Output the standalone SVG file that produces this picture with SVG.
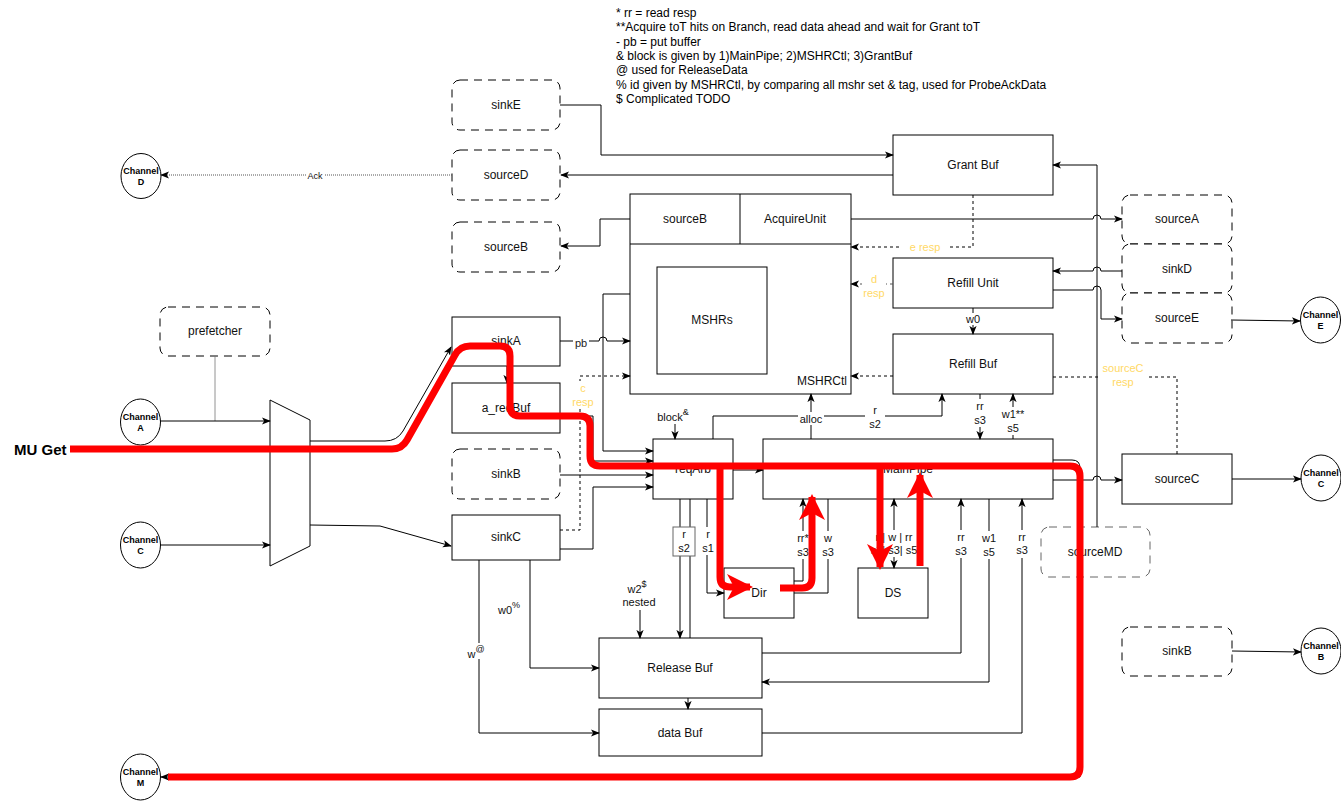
<svg xmlns="http://www.w3.org/2000/svg" width="1341" height="803" viewBox="0 0 1341 803">
<style>
.n{fill:#fff;stroke:#000;stroke-width:1}
.d{fill:#fff;stroke:#000;stroke-width:1;stroke-dasharray:8 6}
.ch{fill:#fff;stroke:#000;stroke-width:1}
.t{font-family:"Liberation Sans",Arial,sans-serif;font-size:12px;fill:#111;text-anchor:middle;dominant-baseline:central}
.c{font-family:"Liberation Sans",Arial,sans-serif;font-size:9px;font-weight:bold;fill:#000;text-anchor:middle;dominant-baseline:central}
.l{font-family:"Liberation Sans",Arial,sans-serif;font-size:11px;fill:#111;text-anchor:middle;dominant-baseline:central}
.o{fill:#FFD966}
.note{font-family:"Liberation Sans",Arial,sans-serif;font-size:12px;fill:#000;dominant-baseline:central}
.e{fill:none;stroke:#000;stroke-width:1}
.ds{fill:none;stroke:#000;stroke-width:1;stroke-dasharray:3 3}
.dot{fill:none;stroke:#555;stroke-width:1;stroke-dasharray:1 1}
.bg{fill:#fff}
.red{fill:none;stroke:#f00;stroke-width:7}
</style>
<defs>
<marker id="a" viewBox="0 0 10 8" refX="9" refY="4" markerWidth="9" markerHeight="8" markerUnits="userSpaceOnUse" orient="auto"><path d="M0,0 L10,4 L0,8 L2.5,4 Z" fill="#000"/></marker>
<marker id="as" viewBox="0 0 10 8" refX="1" refY="4" markerWidth="9" markerHeight="8" markerUnits="userSpaceOnUse" orient="auto"><path d="M10,0 L0,4 L10,8 L7.5,4 Z" fill="#000"/></marker>
<marker id="r" viewBox="0 0 26 26" refX="23" refY="13" markerWidth="26" markerHeight="26" markerUnits="userSpaceOnUse" orient="auto"><path d="M0,0 L26,13 L0,26 L7,13 Z" fill="#f00"/></marker>
</defs>

<g id="notes">
<text class="note" x="616" y="13">* rr = read resp</text>
<text class="note" x="616" y="27.3">**Acquire toT hits on Branch, read data ahead and wait for Grant toT</text>
<text class="note" x="616" y="41.6">- pb = put buffer</text>
<text class="note" x="616" y="55.9">&amp; block is given by 1)MainPipe; 2)MSHRCtl; 3)GrantBuf</text>
<text class="note" x="616" y="70.2">@ used for ReleaseData</text>
<text class="note" x="616" y="84.5">% id given by MSHRCtl, by comparing all mshr set &amp; tag, used for ProbeAckData</text>
<text class="note" x="616" y="98.8">$ Complicated TODO</text>
</g>

<g id="sinkE"><rect class="d" x="452" y="80" width="108" height="50" rx="8"/><text class="t" x="506" y="105">sinkE</text></g>
<g id="sourceD"><rect class="d" x="452" y="150" width="108" height="50" rx="8"/><text class="t" x="506" y="175">sourceD</text></g>
<g id="sourceB-out"><rect class="d" x="452" y="222" width="108" height="50" rx="8"/><text class="t" x="506" y="247">sourceB</text></g>
<g id="channelD"><ellipse class="ch" cx="141" cy="176" rx="20" ry="22.5"/><text class="c" x="141" y="170.5">Channel</text><text class="c" x="141" y="181.5">D</text></g>
<g id="prefetcher"><rect class="d" x="160" y="307" width="110" height="49" rx="8"/><text class="t" x="215" y="331">prefetcher</text></g>
<g id="channelA"><ellipse class="ch" cx="140.5" cy="422" rx="20" ry="23"/><text class="c" x="140.5" y="416.5">Channel</text><text class="c" x="140.5" y="427.5">A</text></g>
<g id="channelC-in"><ellipse class="ch" cx="140.5" cy="545" rx="20" ry="23"/><text class="c" x="140.5" y="539.5">Channel</text><text class="c" x="140.5" y="550.5">C</text></g>
<g id="channelM"><ellipse class="ch" cx="140.5" cy="777" rx="20" ry="23"/><text class="c" x="140.5" y="771.5">Channel</text><text class="c" x="140.5" y="782.5">M</text></g>
<g id="mux"><polygon class="n" points="270,400 310,420 310,546 270,566"/></g>
<g id="sinkA"><rect class="n" x="452" y="317" width="108" height="49"/><text class="t" x="506" y="341">sinkA</text></g>
<g id="a_reqBuf"><rect class="n" x="452" y="383" width="108" height="50"/><text class="t" x="506" y="408">a_reqBuf</text></g>
<g id="sinkB-in"><rect class="d" x="452" y="449" width="108" height="50" rx="8"/><text class="t" x="506" y="474">sinkB</text></g>
<g id="sinkC"><rect class="n" x="452" y="515" width="108" height="45"/><text class="t" x="506" y="537">sinkC</text></g>

<g id="MSHRCtl">
<rect class="n" x="630" y="194" width="221" height="200"/>
<line class="e" x1="630" y1="244" x2="851" y2="244"/>
<line class="e" x1="740" y1="194" x2="740" y2="244"/>
<text class="t" x="685" y="219">sourceB</text>
<text class="t" x="795" y="219">AcquireUnit</text>
<rect class="n" x="657" y="267" width="110" height="107"/>
<text class="t" x="712" y="320">MSHRs</text>
<text class="t" x="847" y="381" style="text-anchor:end">MSHRCtl</text>
</g>

<g id="GrantBuf"><rect class="n" x="893" y="135" width="160" height="60"/><text class="t" x="973" y="165">Grant Buf</text></g>
<g id="RefillUnit"><rect class="n" x="893" y="258" width="160" height="50"/><text class="t" x="973" y="283">Refill Unit</text></g>
<g id="RefillBuf"><rect class="n" x="893" y="334" width="160" height="60"/><text class="t" x="973" y="364">Refill Buf</text></g>
<g id="sourceA"><rect class="d" x="1122" y="195" width="110" height="49" rx="8"/><text class="t" x="1177" y="219">sourceA</text></g>
<g id="sinkD"><rect class="d" x="1122" y="244" width="110" height="49" rx="8"/><text class="t" x="1177" y="269">sinkD</text></g>
<g id="sourceE"><rect class="d" x="1122" y="293" width="110" height="50" rx="8"/><text class="t" x="1177" y="318">sourceE</text></g>
<g id="channelE"><ellipse class="ch" cx="1320.5" cy="320" rx="20" ry="23"/><text class="c" x="1320.5" y="314.5">Channel</text><text class="c" x="1320.5" y="325.5">E</text></g>
<g id="reqArb"><rect class="n" x="653" y="439" width="80" height="60"/><text class="t" x="693" y="469">reqArb</text></g>
<g id="MainPipe"><rect class="n" x="763" y="439" width="290" height="60"/><text class="t" x="908" y="469">MainPipe</text></g>
<g id="Dir"><rect class="n" x="724" y="568" width="70" height="50"/><text class="t" x="759" y="593">Dir</text></g>
<g id="DS"><rect class="n" x="858" y="568" width="70" height="50"/><text class="t" x="893" y="593">DS</text></g>
<g id="ReleaseBuf"><rect class="n" x="599" y="638" width="163" height="60"/><text class="t" x="680" y="668">Release Buf</text></g>
<g id="dataBuf"><rect class="n" x="599" y="709" width="163" height="47"/><text class="t" x="680" y="733">data Buf</text></g>
<g id="sourceC"><rect class="n" x="1122" y="454" width="110" height="50"/><text class="t" x="1177" y="479">sourceC</text></g>
<g id="channelC-out"><ellipse class="ch" cx="1321" cy="478" rx="20" ry="23"/><text class="c" x="1321" y="472.5">Channel</text><text class="c" x="1321" y="483.5">C</text></g>
<g id="sourceMD"><rect class="d" x="1041" y="527" width="109" height="50" rx="8" style="stroke:#666"/><text class="t" x="1095" y="552">sourceMD</text></g>
<g id="sinkB-out"><rect class="d" x="1122" y="627" width="110" height="49" rx="8"/><text class="t" x="1177" y="651">sinkB</text></g>
<g id="channelB"><ellipse class="ch" cx="1321" cy="651" rx="20" ry="23"/><text class="c" x="1321" y="645.5">Channel</text><text class="c" x="1321" y="656.5">B</text></g>

<g id="connectors">
<path class="dot" d="M452,175 L161,175" marker-end="url(#a)"/>
<rect class="bg" x="306" y="170" width="18" height="11"/>
<text class="l" x="315" y="176" style="font-size:9px">Ack</text>
<path class="e" d="M560,105 L601,105 L601,155 L893,155" marker-end="url(#a)"/>
<path class="e" d="M893,175 L561,175" marker-end="url(#a)"/>
<path class="e" d="M630,219 L600,219 L600,246 L561,246" marker-end="url(#a)"/>
<path class="e" d="M215,356 L215,421" style="stroke:#777;stroke-width:0.8"/>
<path class="e" d="M160,421 L270,421" marker-end="url(#a)"/>
<path class="e" d="M160,545 L270,545" marker-end="url(#a)"/>
<path class="e" d="M310,441 L385,441 Q397,441 403,431 L451,347" marker-end="url(#a)"/>
<path class="e" d="M310,525 L380,526 L451,546" marker-end="url(#a)"/>
<path class="e" d="M507,366 L507,383" marker-end="url(#a)"/>
<path class="e" d="M560,341 L599,341 A4,4 0 0 1 607,341 L630,341" marker-end="url(#a)"/>
<rect class="bg" x="573" y="336" width="16" height="12"/>
<text class="l" x="581" y="343" style="fill:#222">pb</text>
<path class="e" d="M630,294 L603,294 L603,451 L653,451" marker-end="url(#a)"/>
<path class="e" d="M560,416 L593,416 L593,461 L653,461" marker-end="url(#a)"/>
<path class="e" d="M560,475 L653,475" marker-end="url(#a)"/>
<path class="e" d="M560,549 L593,549 L593,487 L653,487" marker-end="url(#a)"/>
<path class="ds" d="M560,530 L580,530 L580,376 L630,376" marker-end="url(#a)"/>
<rect class="bg" x="570" y="381" width="26" height="28"/>
<text class="l o" x="583" y="388">c</text>
<text class="l o" x="583" y="402">resp</text>
<path class="e" d="M675,424 L675,439" marker-end="url(#a)"/>
<text class="l" x="673" y="417">block<tspan dy="-5" font-size="9">&amp;</tspan></text>

<path class="e" d="M733,470 L763,470" marker-end="url(#a)"/>
<path class="e" d="M811,439 L811,394" marker-end="url(#a)"/>
<path class="e" d="M713,439 L713,416 L942,416 L942,394" marker-end="url(#a)"/>
<rect class="bg" x="798" y="412" width="26" height="13"/>
<text class="l" x="811" y="419">alloc</text>
<rect class="bg" x="865" y="403" width="20" height="28"/>
<text class="l" x="875" y="410">r</text>
<text class="l" x="875" y="424">s2</text>
<path class="e" d="M980,394 L980,439" marker-end="url(#a)"/>
<rect class="bg" x="971" y="399" width="18" height="28"/>
<text class="l" x="980" y="406">rr</text>
<text class="l" x="980" y="420">s3</text>
<path class="e" d="M1013,439 L1013,394" marker-end="url(#a)"/>
<rect class="bg" x="1000" y="407" width="27" height="28"/>
<text class="l" x="1013" y="414">w1**</text>
<text class="l" x="1013" y="428">s5</text>
<path class="e" d="M973,308 L973,334" marker-end="url(#a)"/>
<rect class="bg" x="964" y="313" width="18" height="12"/>
<text class="l" x="973" y="319">w0</text>
<path class="ds" d="M893,376 L851,376" marker-end="url(#a)"/>
<path class="ds" d="M1053,377 L1177,377 L1177,454"/>
<rect class="bg" x="1100" y="361" width="46" height="28"/>
<text class="l o" x="1123" y="368">sourceC</text>
<text class="l o" x="1123" y="382">resp</text>
<path class="ds" d="M973,195 L973,247 L851,247" marker-end="url(#a)"/>
<rect class="bg" x="900" y="241" width="50" height="12"/>
<text class="l o" x="925" y="247">e resp</text>
<path class="ds" d="M893,284 L851,284" marker-end="url(#a)" style="stroke:#555"/>
<rect class="bg" x="862" y="272" width="24" height="28"/>
<text class="l o" x="874" y="279">d</text>
<text class="l o" x="874" y="293">resp</text>
<path class="e" d="M851,219 L1093,219 A4,4 0 0 1 1101,219 L1122,219" marker-end="url(#a)"/>
<path class="e" d="M1097,527 L1097,165 L1053,165" marker-end="url(#a)"/>
<path class="e" d="M1122,271 L1101,271 A4,4 0 0 0 1093,271 L1053,271" marker-end="url(#a)"/>
<path class="e" d="M1053,290 L1093,290 A4,4 0 0 1 1101,290 L1101,319 L1122,319" marker-end="url(#a)"/>
<path class="e" d="M1231,320 L1300,321" marker-end="url(#a)"/>
<path class="e" d="M1053,480 L1093,480 A4,4 0 0 1 1101,480 L1122,480" marker-end="url(#a)"/>
<path class="e" d="M1232,479 L1301,479" marker-end="url(#a)"/>
<path class="e" d="M1232,651 L1301,652" marker-end="url(#a)"/>
<path class="e" d="M1053,460 L1072,460 Q1080,460 1080,468 L1080,777 L161,777" marker-end="url(#a)"/>

<path class="e" d="M680,499 L680,638" marker-end="url(#a)"/>
<path class="e" d="M690,499 L690,638"/>
<rect x="673" y="527" width="22" height="29" fill="#fff" stroke="#666"/>
<text class="l" x="684" y="534">r</text>
<text class="l" x="684" y="548">s2</text>
<path class="e" d="M707,499 L707,593 L724,593" marker-end="url(#a)"/>
<rect class="bg" x="699" y="527" width="18" height="28"/>
<text class="l" x="708" y="534">r</text>
<text class="l" x="708" y="548">s1</text>
<path class="e" d="M640,610 L640,638" marker-end="url(#a)"/>
<text class="l" x="637" y="589">w2<tspan dy="-5" font-size="9">$</tspan></text>
<text class="l" x="639" y="602">nested</text>
<path class="e" d="M794,581 L803,581 L803,499" marker-end="url(#a)"/>
<rect class="bg" x="794" y="531" width="18" height="28"/>
<text class="l" x="803" y="538">rr*</text>
<text class="l" x="803" y="552">s3</text>
<path class="e" d="M828,499 L828,593 L794,593"/>
<rect class="bg" x="820" y="531" width="17" height="28"/>
<text class="l" x="828" y="538">w</text>
<text class="l" x="828" y="552">s3</text>
<path class="e" d="M894,499 L894,568" marker-start="url(#as)" marker-end="url(#a)"/>
<rect class="bg" x="872" y="530" width="46" height="27"/>
<text class="l" x="894" y="537">r | w | rr</text>
<text class="l" x="894" y="550">s3| s3| s5</text>
<path class="e" d="M762,653 L961,653 L961,499" marker-end="url(#a)"/>
<rect class="bg" x="952" y="530" width="18" height="28"/>
<text class="l" x="961" y="537">rr</text>
<text class="l" x="961" y="551">s3</text>
<path class="e" d="M989,499 L989,682 L762,682" marker-end="url(#a)"/>
<rect class="bg" x="979" y="531" width="20" height="28"/>
<text class="l" x="989" y="538">w1</text>
<text class="l" x="989" y="552">s5</text>
<path class="e" d="M762,733 L1022,733 L1022,499" marker-end="url(#a)"/>
<rect class="bg" x="1013" y="530" width="18" height="28"/>
<text class="l" x="1022" y="537">rr</text>
<text class="l" x="1022" y="550">s3</text>
<path class="e" d="M530,560 L530,668 L599,668" marker-end="url(#a)"/>
<rect class="bg" x="500" y="600" width="26" height="16"/>
<text class="l" x="509" y="610">w0<tspan dy="-5" font-size="9">%</tspan></text>
<path class="e" d="M479,560 L479,733 L599,733" marker-end="url(#a)"/>
<rect class="bg" x="466" y="643" width="24" height="16"/>
<text class="l" x="476" y="654">w<tspan dy="-5" font-size="9">@</tspan></text>
<path class="e" d="M688,698 L688,709" marker-end="url(#a)"/>
</g>

<g id="mu-get">
<text x="14" y="449" style="font-family:'Liberation Sans',Arial,sans-serif;font-size:15px;font-weight:bold;dominant-baseline:central">MU Get</text>
<path class="red" d="M70,449 L392,449 Q402,449 407,440 L455,355 Q460,346 470,346 L500,346 Q510,346 510,356 L510,406 Q510,416 520,416 L580,416 Q590,416 590,426 L590,456 Q590,466 600,466 L1070,466 Q1080,466 1080,476 L1080,767 Q1080,777 1070,777 L168,777"/>
<path class="red" d="M720,466 L720,577 Q720,587 730,587 L750,587" marker-end="url(#r)"/>
<path class="red" d="M780,588 L802,588 Q812,588 812,578 L812,497" marker-end="url(#r)"/>
<path class="red" d="M880,466 L880,567" marker-end="url(#r)"/>
<path class="red" d="M920,566 L920,475" marker-end="url(#r)"/>
</g>
</svg>
